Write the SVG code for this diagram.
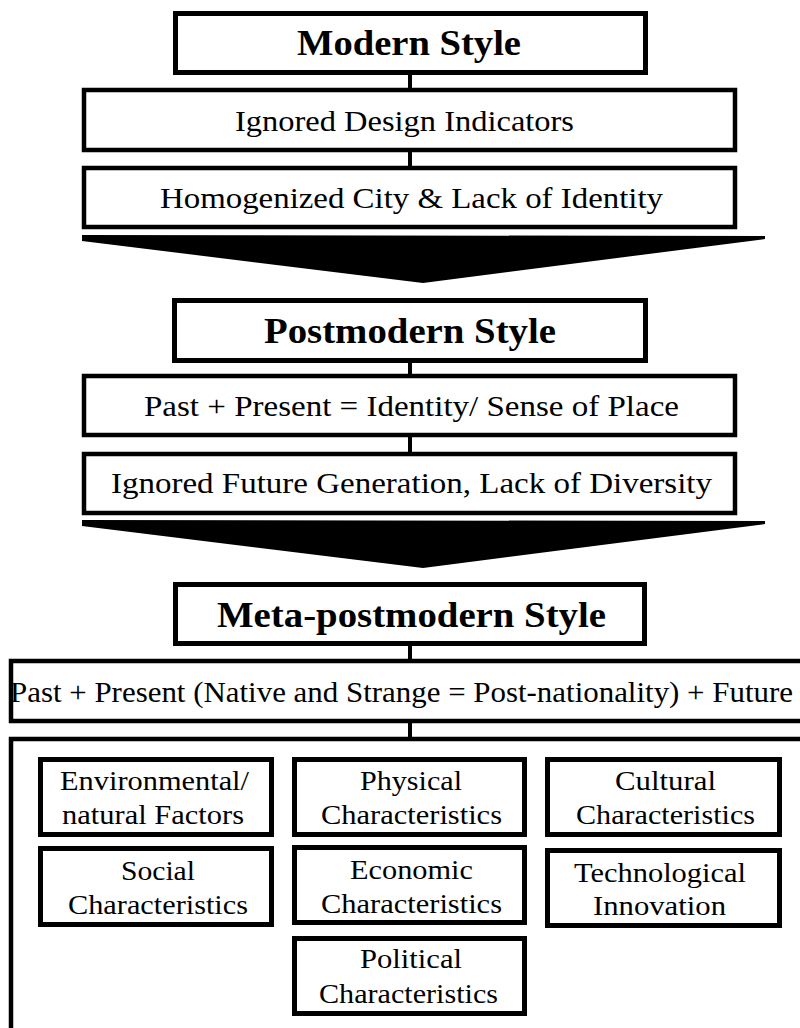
<svg xmlns="http://www.w3.org/2000/svg" width="800" height="1028" viewBox="0 0 800 1028">
<style>
.t{font-family:"Liberation Serif","Times New Roman",serif;fill:#000;text-anchor:middle}
.title{font-size:36px;font-weight:bold}
.mid{font-size:30px}
.sub{font-size:28px}
.box{fill:#fff;stroke:#000;stroke-width:5}
.mbox{fill:#fff;stroke:#000;stroke-width:4.5}
.conn{stroke:#000;stroke-width:4;fill:none}
</style>
<rect width="800" height="1028" fill="#fff"/>
<g id="connectors">
<line class="conn" x1="410" y1="75" x2="410" y2="88"/>
<line class="conn" x1="410" y1="152" x2="410" y2="166"/>
<line class="conn" x1="410" y1="363" x2="410" y2="374"/>
<line class="conn" x1="410" y1="437" x2="410" y2="452"/>
<line class="conn" x1="410" y1="646" x2="410" y2="659"/>
<line class="conn" x1="410" y1="723" x2="410" y2="737"/>
<polygon id="arrow1" points="82,235 765,236 765,239 423,283 82,241" fill="#000"/>
<polygon id="arrow2" points="82,520 765,521 765,524 423,568 82,526" fill="#000"/>
</g>
<g id="modern">
<rect class="box" x="175.5" y="13.5" width="470" height="59"/>
<text class="t title" x="409" y="55" textLength="224" lengthAdjust="spacingAndGlyphs">Modern Style</text>
</g>
<g id="ignored-design">
<rect class="mbox" x="84" y="90" width="651" height="60"/>
<text class="t mid" x="404.5" y="131" textLength="339" lengthAdjust="spacingAndGlyphs">Ignored Design Indicators</text>
</g>
<g id="homogenized">
<rect class="mbox" x="84" y="168" width="651" height="59"/>
<text class="t mid" x="411.5" y="208" textLength="503" lengthAdjust="spacingAndGlyphs">Homogenized City &amp; Lack of Identity</text>
</g>
<g id="postmodern">
<rect class="box" x="174.5" y="300.5" width="471" height="60"/>
<text class="t title" x="410" y="343" textLength="292" lengthAdjust="spacingAndGlyphs">Postmodern Style</text>
</g>
<g id="past-present">
<rect class="mbox" x="84" y="376" width="651" height="59"/>
<text class="t mid" x="411.5" y="416" textLength="535" lengthAdjust="spacingAndGlyphs">Past + Present = Identity/ Sense of Place</text>
</g>
<g id="ignored-future">
<rect class="mbox" x="84" y="454" width="651" height="59"/>
<text class="t mid" x="411.5" y="493" textLength="601" lengthAdjust="spacingAndGlyphs">Ignored Future Generation, Lack of Diversity</text>
</g>
<g id="meta-postmodern">
<rect class="box" x="175.5" y="584.5" width="469" height="59"/>
<text class="t title" x="411.5" y="627" textLength="389" lengthAdjust="spacingAndGlyphs">Meta-postmodern Style</text>
</g>
<g id="past-present-future">
<rect class="mbox" x="11" y="661" width="800" height="60"/>
<text class="t mid" x="401.5" y="702" textLength="783" lengthAdjust="spacingAndGlyphs">Past + Present (Native and Strange = Post-nationality) + Future</text>
</g>
<g id="factors">
<rect class="mbox" x="11" y="739" width="800" height="300"/>
</g>
<g id="environmental">
<rect class="box" x="40.5" y="759.5" width="231" height="75"/>
<text class="t sub" x="154.5" y="790" textLength="189" lengthAdjust="spacingAndGlyphs">Environmental/</text>
<text class="t sub" x="153" y="824" textLength="182" lengthAdjust="spacingAndGlyphs">natural Factors</text>
</g>
<g id="physical">
<rect class="box" x="294.5" y="759.5" width="230" height="75"/>
<text class="t sub" x="411" y="790" textLength="102" lengthAdjust="spacingAndGlyphs">Physical</text>
<text class="t sub" x="411.5" y="824" textLength="181" lengthAdjust="spacingAndGlyphs">Characteristics</text>
</g>
<g id="cultural">
<rect class="box" x="547.5" y="759.5" width="232" height="75"/>
<text class="t sub" x="665.5" y="790" textLength="101" lengthAdjust="spacingAndGlyphs">Cultural</text>
<text class="t sub" x="665.5" y="824" textLength="179" lengthAdjust="spacingAndGlyphs">Characteristics</text>
</g>
<g id="social">
<rect class="box" x="40.5" y="848.5" width="231" height="76"/>
<text class="t sub" x="158" y="880" textLength="74" lengthAdjust="spacingAndGlyphs">Social</text>
<text class="t sub" x="158" y="914" textLength="180" lengthAdjust="spacingAndGlyphs">Characteristics</text>
</g>
<g id="economic">
<rect class="box" x="294.5" y="847.5" width="230" height="75"/>
<text class="t sub" x="411.5" y="879" textLength="123" lengthAdjust="spacingAndGlyphs">Economic</text>
<text class="t sub" x="411.5" y="913" textLength="181" lengthAdjust="spacingAndGlyphs">Characteristics</text>
</g>
<g id="technological">
<rect class="box" x="547.5" y="850.5" width="232" height="75"/>
<text class="t sub" x="660" y="882" textLength="172" lengthAdjust="spacingAndGlyphs">Technological</text>
<text class="t sub" x="659.5" y="915" textLength="133" lengthAdjust="spacingAndGlyphs">Innovation</text>
</g>
<g id="political">
<rect class="box" x="294.5" y="938.5" width="230" height="75"/>
<text class="t sub" x="411" y="968" textLength="102" lengthAdjust="spacingAndGlyphs">Political</text>
<text class="t sub" x="408.5" y="1003" textLength="179" lengthAdjust="spacingAndGlyphs">Characteristics</text>
</g>
</svg>
